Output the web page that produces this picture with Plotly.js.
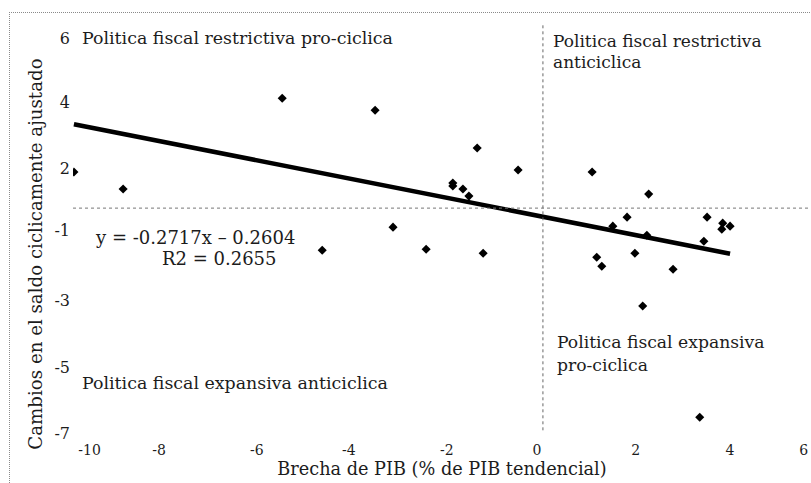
<!DOCTYPE html>
<html>
<head>
<meta charset="utf-8">
<script src="https://cdn.plot.ly/plotly-3.0.1.min.js"></script>
<style>
  html, body { margin: 0; padding: 0; background: #fff; }
  #wrap { position: relative; width: 811px; height: 483px; overflow: hidden; }
  #chart { position: absolute; left: 0; top: 0; width: 811px; height: 483px; }
  #frame { position: absolute; left: 9px; top: 12px; width: 900px; height: 600px;
           border-left: 1px dotted #8a8a8a; border-top: 1px dotted #8a8a8a; pointer-events: none; }
</style>
</head>
<body>
<div id="wrap">
  <div id="chart"></div>
  <div id="frame"></div>
</div>
<script>
// Output gap (% of trend GDP) and change in the cyclically adjusted balance
const brechaPIB = [
  -10.2, -9.13, -5.67, -3.65, -4.8, -3.26, -2.54, -1.3, -1.43, -0.54,
  -1.96, -1.96, -1.74, -1.61,
  1.07, 2.3, 1.83, 1.52, 2.26, 1.17, 1.28, 2.0, 2.83, 3.57, 3.5,
  3.91, 4.07, 3.89, 2.17, 3.41
];
const cambioSaldo = [
  1.08, 0.57, 3.29, 2.93, -1.26, -0.57, -1.23, -1.35, 1.8, 1.14,
  0.75, 0.66, 0.57, 0.36,
  1.08, 0.42, -0.27, -0.54, -0.81, -1.47, -1.74, -1.35, -1.83, -0.27, -0.99,
  -0.45, -0.54, -0.63, -2.93, -6.26
];

// Linear trend as stated in the equation label
const pendiente = -0.2717;
const intercepto = -0.2604;
const r2 = 0.2655;

// Axis tick labels
const xTickVals = [-9.86, -8.35, -6.22, -4.22, -2.09, -0.13, 2.02, 4.07, 5.67];
const xTickText = ['-10', '-8', '-6', '-4', '-2', '0', '2', '4', '6'];
const yTickVals = [5.09, 3.17, 1.2, -0.66, -2.75, -4.76, -6.74];
const yTickText = ['6', '4', '2', '-1', '-3', '-5', '-7'];

const xMin = Math.min(...brechaPIB);
const xMax = Math.max(...brechaPIB);
const trendX = [xMin, xMax];
const trendY = trendX.map(v => pendiente * v + intercepto);

const serif = 'DejaVu Serif, Liberation Serif, serif';
const ink = '#1c1c1c';

const traces = [
  {
    x: trendX, y: trendY, type: 'scatter', mode: 'lines',
    line: { color: '#000', width: 4.5 }, hoverinfo: 'skip'
  },
  {
    x: brechaPIB, y: cambioSaldo, type: 'scatter', mode: 'markers',
    marker: { symbol: 'diamond', size: 7, color: '#000' }
  }
];

function note(text, x, y, size) {
  return { text: text, xref: 'paper', yref: 'paper', x: x, y: y,
           xanchor: 'left', yanchor: 'middle', showarrow: false,
           font: { family: serif, size: size || 17.4, color: ink } };
}

const layout = {
  width: 811, height: 483,
  margin: { l: 73, r: 0, t: 23, b: 46 },
  paper_bgcolor: '#fff', plot_bgcolor: '#fff',
  showlegend: false,
  font: { family: serif, color: ink },
  xaxis: {
    range: [-10.22, 5.83],
    tickvals: xTickVals, ticktext: xTickText,
    tickfont: { family: serif, size: 14, color: ink },
    ticks: '', ticklabelstandoff: 3,
    showgrid: false, zeroline: false, showline: false,
    title: { text: 'Brecha de PIB (% de PIB tendencial)',
             font: { family: serif, size: 17.7, color: ink }, standoff: 5 }
  },
  yaxis: {
    range: [-6.85, 5.54],
    tickvals: yTickVals, ticktext: yTickText,
    tickfont: { family: serif, size: 16, color: ink },
    ticks: '', ticklabelstandoff: 2,
    showgrid: false, zeroline: false, showline: false
  },
  shapes: [
    { type: 'line', xref: 'paper', yref: 'y', x0: 0, x1: 1, y0: 0, y1: 0,
      line: { color: '#777', width: 1, dash: 'dot' } },
    { type: 'line', xref: 'x', yref: 'y', x0: 0, x1: 0, y0: -6.65, y1: 5.54,
      line: { color: '#666', width: 1, dash: 'dot' } }
  ],
  annotations: [
    note('Politica fiscal restrictiva pro-ciclica', 0.0095, 0.964),
    note('Politica fiscal restrictiva', 0.648, 0.957, 17),
    note('anticiclica', 0.648, 0.906, 17),
    note('y = -0.2717x – 0.2604', 0.0271, 0.483, 18),
    note('R2 = ' + r2.toFixed(4), 0.118, 0.432, 18),
    note('Politica fiscal expansiva', 0.653, 0.229, 17.2),
    note('pro-ciclica', 0.653, 0.174, 17.2),
    note('Politica fiscal expansiva anticiclica', 0.0095, 0.130),
    { text: 'Cambios en el saldo ciclicamente ajustado', textangle: -90,
      xref: 'paper', yref: 'paper', x: -0.052, y: 0.442,
      xanchor: 'center', yanchor: 'middle', showarrow: false,
      font: { family: serif, size: 18.2, color: ink } }
  ]
};

Plotly.newPlot('chart', traces, layout, { displayModeBar: false, staticPlot: true });
</script>
</body>
</html>
